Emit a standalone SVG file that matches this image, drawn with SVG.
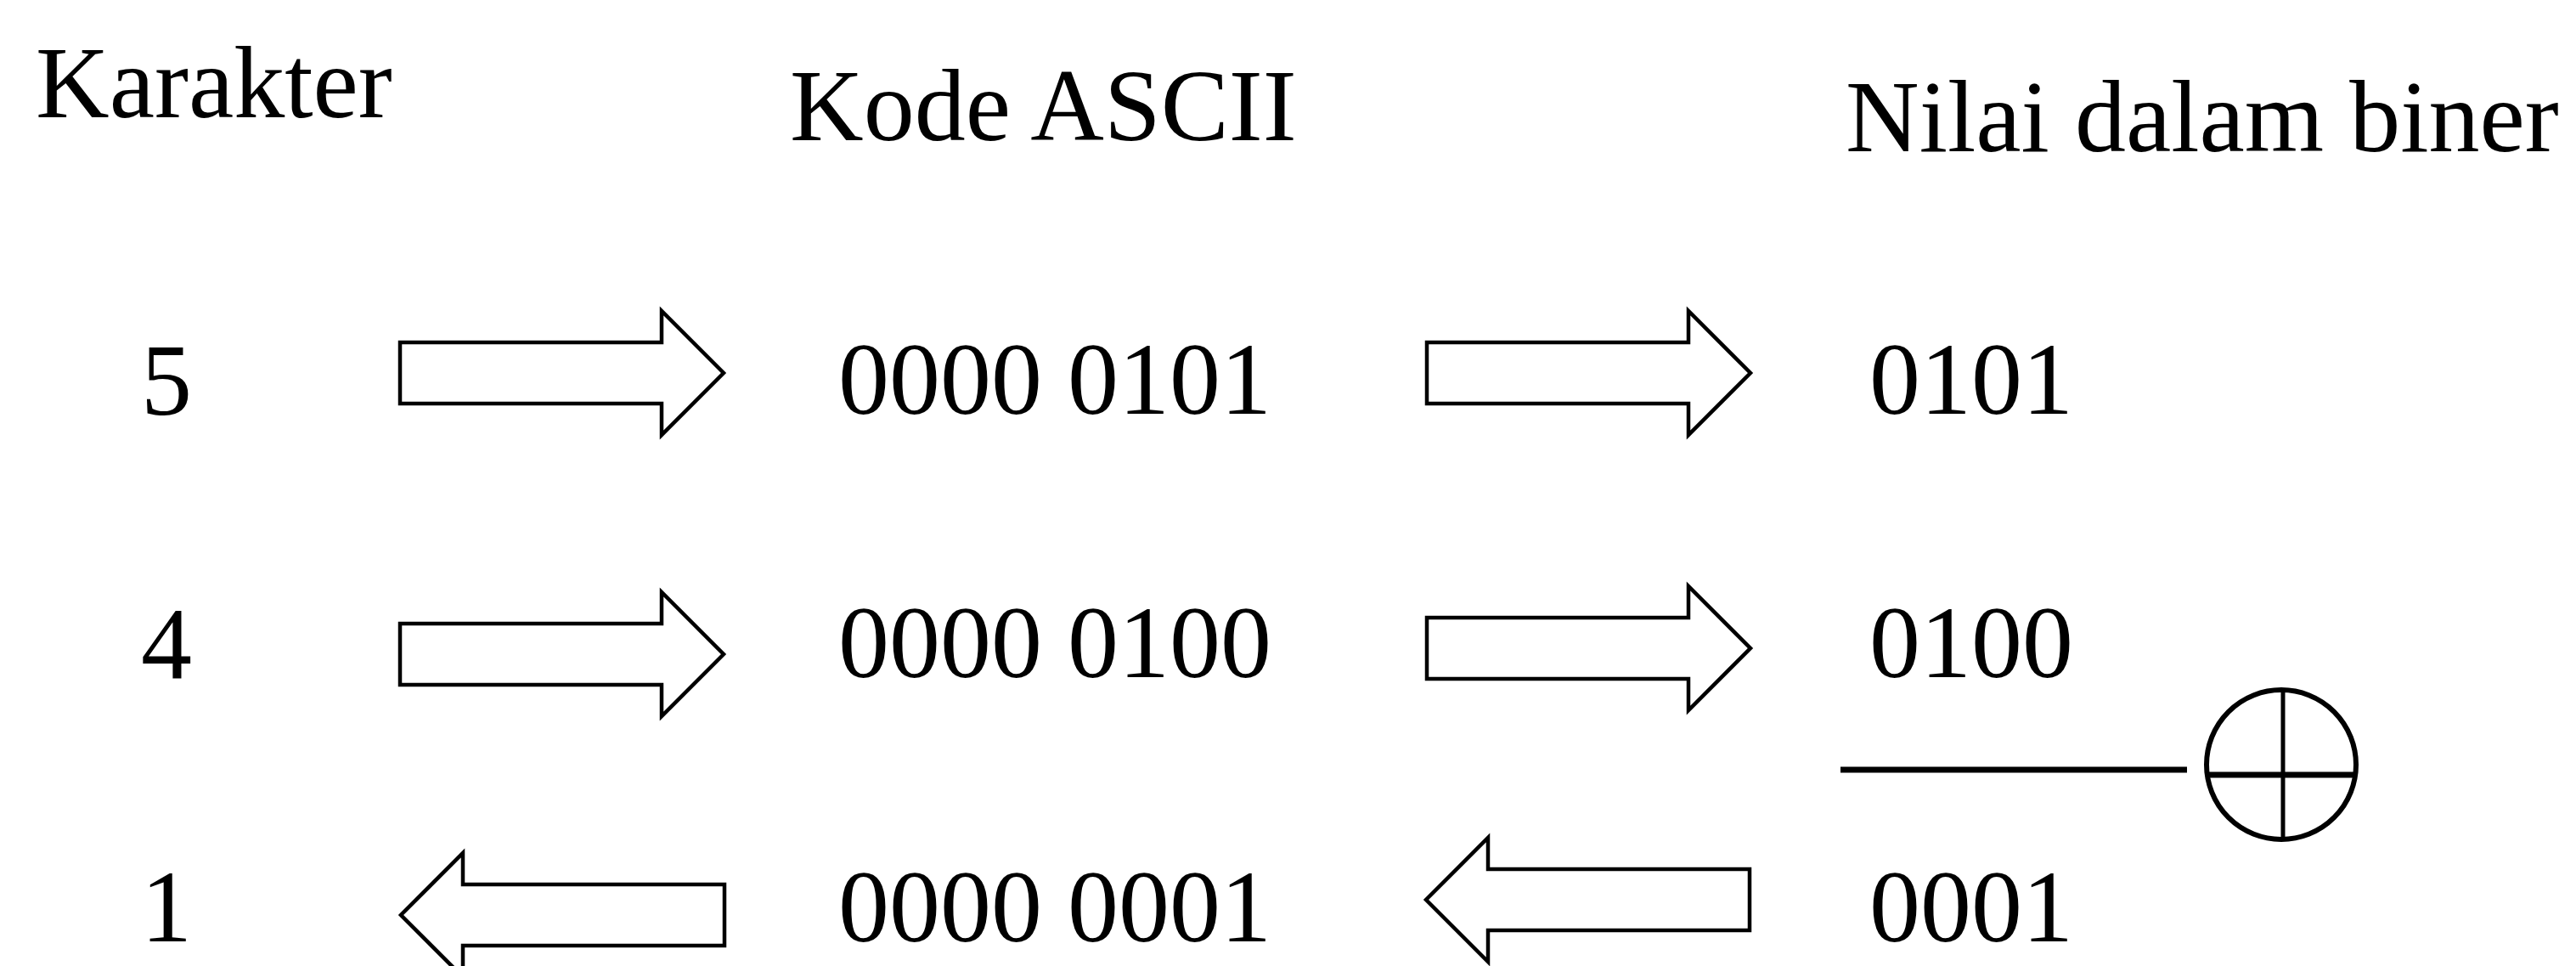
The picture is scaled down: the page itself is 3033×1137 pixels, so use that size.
<svg xmlns="http://www.w3.org/2000/svg" xmlns:xlink="http://www.w3.org/1999/xlink" width="3033" height="1137" viewBox="0 0 3033 1137">
  <style>
    .t { font-family: "Liberation Serif", "Times New Roman", serif; font-size: 120px; fill: #000; }
    .arrow { fill: #fff; stroke: #000; stroke-width: 4.5; stroke-linejoin: miter; }
    .rule { stroke: #000; stroke-width: 7; fill: none; }
  </style>
  <defs>
    <!-- block arrows, origin at the tip -->
    <path id="arrowR" d="M -381 -36 H -73 V -73 L 0 0 L -73 73 V 36 H -381 Z"/>
    <path id="arrowL" d="M 381 -36 H 73 V -73 L 0 0 L 73 73 V 36 H 381 Z"/>
  </defs>
  <rect width="3033" height="1137" fill="#fff"/>

  <!-- column headings -->
  <g id="head-karakter"><text class="t" x="42" y="138">Karakter</text></g>
  <g id="head-ascii"><text class="t" x="930" y="165">Kode ASCII</text></g>
  <g id="head-biner"><text class="t" x="2173" y="178">Nilai dalam biner</text></g>

  <!-- row 1 -->
  <g id="char-5"><text class="t" x="166" y="488">5</text></g>
  <g id="ascii-5"><text class="t" x="987" y="487">0000 0101</text></g>
  <g id="bin-5"><text class="t" x="2201" y="487">0101</text></g>

  <!-- row 2 -->
  <g id="char-4"><text class="t" x="166" y="798">4</text></g>
  <g id="ascii-4"><text class="t" x="987" y="797">0000 0100</text></g>
  <g id="bin-4"><text class="t" x="2201" y="797">0100</text></g>

  <!-- row 3 -->
  <g id="char-1"><text class="t" x="166" y="1108">1</text></g>
  <g id="ascii-1"><text class="t" x="987" y="1108">0000 0001</text></g>
  <g id="bin-1"><text class="t" x="2201" y="1108">0001</text></g>

  <!-- XOR operator -->
  <g id="xor">
    <line class="rule" x1="2167" y1="906" x2="2575" y2="906"/>
    <circle cx="2686" cy="900" r="88" fill="none" stroke="#000" stroke-width="6"/>
    <line x1="2688" y1="812" x2="2688" y2="988" stroke="#000" stroke-width="5"/>
    <line x1="2598" y1="912" x2="2774" y2="912" stroke="#000" stroke-width="7"/>
  </g>

  <!-- connectors -->
  <g id="connectors">
    <use xlink:href="#arrowR" class="arrow" x="852" y="439"/>
    <use xlink:href="#arrowR" class="arrow" x="2061" y="439"/>
    <use xlink:href="#arrowR" class="arrow" x="852" y="770"/>
    <use xlink:href="#arrowR" class="arrow" x="2061" y="763"/>
    <use xlink:href="#arrowL" class="arrow" x="472" y="1077"/>
    <use xlink:href="#arrowL" class="arrow" x="1679" y="1059"/>
  </g>
</svg>
